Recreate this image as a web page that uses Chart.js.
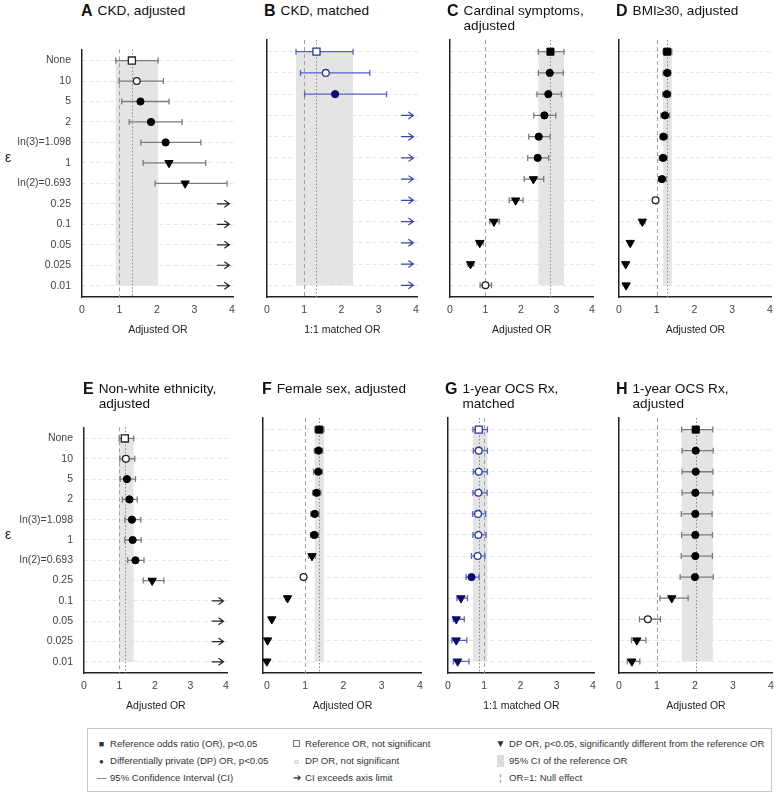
<!DOCTYPE html>
<html>
<head>
<meta charset="utf-8">
<script src="https://cdn.jsdelivr.net/npm/chart.js@4"></script>
<style>
  html, body { margin: 0; padding: 0; overflow: hidden; background: #fff; }
  body { font-family: "Liberation Sans", Arial, sans-serif; color: #222; }
  #wrap { position: relative; width: 780px; height: 800px; }
  #wrap canvas { position: absolute; }
  .ttl { position: absolute; display: flex; align-items: flex-start; font-size: 13.6px; line-height: 15px; color: #111; }
  .ttl b { font-size: 16px; line-height: 15px; margin-right: 5px; }
  .eps { position: absolute; font-size: 14px; }
  #legend { position: absolute; left: 87px; top: 728px; width: 683px; height: 62px; border: 1px solid #c8c8c8; font-size: 9.6px; color: #333; }
  .lg { position: absolute; white-space: nowrap; line-height: 12px; }
  .lg .s { display: inline-block; width: 11px; text-align: center; margin-right: 3px; }
</style>
</head>
<body>
<div id="wrap"></div>
<script>
// ε levels (y categories), top to bottom
const epsLabels = ['None', '10', '5', '2', 'ln(3)=1.098', '1', 'ln(2)=0.693', '0.25', '0.1', '0.05', '0.025', '0.01'];

// symbol codes: ref = reference OR p<0.05, refNS = reference OR n.s., dp = DP OR p<0.05,
// dpNS = DP OR n.s., diff = DP OR different from reference, arrow = CI exceeds axis
// --- A: CKD, adjusted
const orA  = [1.33, 1.46, 1.56, 1.84, 2.23, 2.32, 2.75, null, null, null, null, null];
const loA  = [0.90, 0.99, 1.06, 1.26, 1.57, 1.63, 1.95, null, null, null, null, null];
const hiA  = [2.03, 2.17, 2.32, 2.67, 3.17, 3.30, 3.87, null, null, null, null, null];
const symA = ['refNS', 'dpNS', 'dp', 'dp', 'dp', 'diff', 'diff', 'arrow', 'arrow', 'arrow', 'arrow', 'arrow'];
// --- B: CKD, matched
const orB  = [1.33, 1.58, 1.83, null, null, null, null, null, null, null, null, null];
const loB  = [0.78, 0.90, 1.01, null, null, null, null, null, null, null, null, null];
const hiB  = [2.31, 2.76, 3.21, null, null, null, null, null, null, null, null, null];
const symB = ['refNS', 'dpNS', 'dp', 'arrow', 'arrow', 'arrow', 'arrow', 'arrow', 'arrow', 'arrow', 'arrow', 'arrow'];
// --- C: Cardinal symptoms, adjusted
const orC  = [2.83, 2.81, 2.77, 2.66, 2.50, 2.47, 2.35, 1.85, 1.24, 0.84, 0.58, 1.00];
const loC  = [2.49, 2.49, 2.45, 2.36, 2.22, 2.19, 2.09, 1.67, 1.12, 0.76, 0.51, 0.85];
const hiC  = [3.21, 3.19, 3.14, 2.98, 2.82, 2.78, 2.64, 2.06, 1.39, 0.94, 0.67, 1.17];
const symC = ['ref', 'dp', 'dp', 'dp', 'dp', 'dp', 'diff', 'diff', 'diff', 'diff', 'diff', 'dpNS'];
// --- D: BMI>=30, adjusted
const orD  = [1.28, 1.28, 1.27, 1.22, 1.18, 1.17, 1.14, 0.97, 0.62, 0.30, 0.18, 0.19];
const loD  = [1.17, 1.17, 1.16, 1.11, 1.09, 1.07, 1.05, 0.90, 0.56, 0.26, 0.15, 0.16];
const hiD  = [1.40, 1.37, 1.37, 1.34, 1.29, 1.28, 1.25, 1.03, 0.69, 0.34, 0.22, 0.23];
const symD = ['ref', 'dp', 'dp', 'dp', 'dp', 'dp', 'dp', 'dpNS', 'diff', 'diff', 'diff', 'diff'];
// --- E: Non-white ethnicity, adjusted
const orE  = [1.15, 1.18, 1.21, 1.28, 1.35, 1.37, 1.45, 1.92, null, null, null, null];
const loE  = [0.99, 1.01, 1.02, 1.08, 1.15, 1.15, 1.23, 1.67, null, null, null, null];
const hiE  = [1.40, 1.43, 1.45, 1.50, 1.60, 1.61, 1.69, 2.25, null, null, null, null];
const symE = ['refNS', 'dpNS', 'dp', 'dp', 'dp', 'dp', 'dp', 'diff', 'arrow', 'arrow', 'arrow', 'arrow'];
// --- F: Female sex, adjusted
const orF  = [1.37, 1.35, 1.34, 1.30, 1.25, 1.24, 1.18, 0.96, 0.54, 0.13, 0.02, 0.00];
const loF  = [1.25, 1.24, 1.22, 1.20, 1.15, 1.14, 1.09, 0.93, 0.51, 0.11, 0.01, 0.00];
const hiF  = [1.49, 1.46, 1.45, 1.41, 1.36, 1.35, 1.27, 0.99, 0.57, 0.15, 0.03, 0.01];
const symF = ['ref', 'dp', 'dp', 'dp', 'dp', 'dp', 'diff', 'dpNS', 'diff', 'diff', 'diff', 'diff'];
// --- G: 1-year OCS Rx, matched
const orG  = [0.85, 0.85, 0.85, 0.84, 0.83, 0.84, 0.82, 0.65, 0.36, 0.23, 0.23, 0.27];
const loG  = [0.69, 0.70, 0.70, 0.69, 0.68, 0.69, 0.65, 0.50, 0.25, 0.15, 0.11, 0.15];
const hiG  = [1.09, 1.09, 1.09, 1.08, 1.04, 1.05, 1.02, 0.86, 0.54, 0.45, 0.52, 0.58];
const symG = ['refNS', 'dpNS', 'dpNS', 'dpNS', 'dpNS', 'dpNS', 'dpNS', 'dp', 'diff', 'diff', 'diff', 'diff'];
// --- H: 1-year OCS Rx, adjusted
const orH  = [2.02, 2.02, 2.02, 2.01, 2.01, 2.01, 2.01, 2.00, 1.39, 0.76, 0.47, 0.34];
const loH  = [1.65, 1.66, 1.66, 1.66, 1.64, 1.65, 1.64, 1.61, 1.08, 0.54, 0.33, 0.22];
const hiH  = [2.47, 2.48, 2.47, 2.47, 2.45, 2.46, 2.46, 2.48, 1.82, 1.09, 0.71, 0.55];
const symH = ['ref', 'dp', 'dp', 'dp', 'dp', 'dp', 'dp', 'dp', 'diff', 'dpNS', 'diff', 'diff'];

// panel layout (plot area in page pixels)
const panels = [
  { key: 'A', title: ['CKD, adjusted'], xTitle: 'Adjusted OR', or: orA, lo: loA, hi: hiA, sym: symA, blue: false, labels: true,  left: 82,  right: 234, top: 40,  bottom: 297, xmin: 0 },
  { key: 'B', title: ['CKD, matched'], xTitle: '1:1 matched OR', or: orB, lo: loB, hi: hiB, sym: symB, blue: true, labels: false, left: 265, right: 418, top: 40, bottom: 297, xmin: 0 },
  { key: 'C', title: ['Cardinal symptoms,', 'adjusted'], xTitle: 'Adjusted OR', or: orC, lo: loC, hi: hiC, sym: symC, blue: false, labels: false, left: 448, right: 594, top: 40, bottom: 297, xmin: 0 },
  { key: 'D', title: ['BMI≥30, adjusted'], xTitle: 'Adjusted OR', or: orD, lo: loD, hi: hiD, sym: symD, blue: false, labels: false, left: 617, right: 776, top: 40, bottom: 297, xmin: 0 },
  { key: 'E', title: ['Non-white ethnicity,', 'adjusted'], xTitle: 'Adjusted OR', or: orE, lo: loE, hi: hiE, sym: symE, blue: false, labels: true, left: 84, right: 228, top: 418, bottom: 673, xmin: 0 },
  { key: 'F', title: ['Female sex, adjusted'], xTitle: 'Adjusted OR', or: orF, lo: loF, hi: hiF, sym: symF, blue: false, labels: false, left: 263, right: 422, top: 418, bottom: 673, xmin: -0.1 },
  { key: 'G', title: ['1-year OCS Rx,', 'matched'], xTitle: '1:1 matched OR', or: orG, lo: loG, hi: hiG, sym: symG, blue: true, labels: false, left: 446, right: 595, top: 418, bottom: 673, xmin: 0 },
  { key: 'H', title: ['1-year OCS Rx,', 'adjusted'], xTitle: 'Adjusted OR', or: orH, lo: loH, hi: hiH, sym: symH, blue: false, labels: false, left: 617, right: 773, top: 418, bottom: 673, xmin: 0 },
];

const wrap = document.getElementById('wrap');
const X_MAX = 4.05, Y_MIN = -0.55, Y_MAX = 11.55;
const X_H = 46, PAD_T = 8;

// band, null line, reference line, CIs and arrows, drawn through the chart scales
function makeLayer(p) {
  const ciCol = p.blue ? '#5564c4' : '#7b7b7b';
  const arrowCol = p.blue ? '#3545a8' : '#222';
  return {
    id: 'forestLayer' + p.key,
    beforeDraw(chart) {
      const { ctx, scales: { x, y } } = chart;
      const x0 = x.getPixelForValue(p.lo[0]), x1 = x.getPixelForValue(p.hi[0]);
      const y0 = y.getPixelForValue(0), y1 = y.getPixelForValue(epsLabels.length - 1);
      ctx.save();
      ctx.fillStyle = '#e4e4e4';
      ctx.fillRect(x0, Math.min(y0, y1), x1 - x0, Math.abs(y1 - y0));
      ctx.restore();
    },
    beforeDatasetsDraw(chart) {
      const { ctx, chartArea: a, scales: { x, y } } = chart;
      ctx.save();
      // OR = 1 null effect
      ctx.strokeStyle = '#a0a0a0';
      ctx.lineWidth = 1;
      ctx.setLineDash([4, 3]);
      let nx = Math.round(x.getPixelForValue(1)) + 0.5;
      ctx.beginPath(); ctx.moveTo(nx, a.top); ctx.lineTo(nx, a.bottom); ctx.stroke();
      // reference OR
      ctx.strokeStyle = '#8a8a8a';
      ctx.setLineDash([1.5, 2]);
      let rx = Math.round(x.getPixelForValue(p.or[0])) + 0.5;
      ctx.beginPath(); ctx.moveTo(rx, a.top); ctx.lineTo(rx, a.bottom); ctx.stroke();
      ctx.setLineDash([]);
      // confidence intervals
      ctx.strokeStyle = ciCol;
      ctx.lineWidth = 1.3;
      p.sym.forEach((s, i) => {
        const py = y.getPixelForValue(i);
        if (s === 'arrow') {
          const ax0 = x.getPixelForValue(3.6), ax1 = x.getPixelForValue(3.93);
          ctx.save();
          ctx.strokeStyle = arrowCol;
          ctx.lineWidth = 1.2;
          ctx.beginPath();
          ctx.moveTo(ax0, py); ctx.lineTo(ax1, py);
          ctx.moveTo(ax1 - 5, py - 3.5); ctx.lineTo(ax1, py); ctx.lineTo(ax1 - 5, py + 3.5);
          ctx.stroke();
          ctx.restore();
          return;
        }
        const l = x.getPixelForValue(p.lo[i]), h = x.getPixelForValue(p.hi[i]);
        ctx.beginPath();
        ctx.moveTo(l, py); ctx.lineTo(h, py);
        ctx.moveTo(l, py - 3); ctx.lineTo(l, py + 3);
        ctx.moveTo(h, py - 3); ctx.lineTo(h, py + 3);
        ctx.stroke();
      });
      ctx.restore();
    }
  };
}

const styleOf = { ref: 'rect', refNS: 'rect', dp: 'circle', dpNS: 'circle', diff: 'triangle' };
const radiusOf = { ref: 5, refNS: 5, dp: 3.6, dpNS: 3.4, diff: 4.8 };

panels.forEach(p => {
  const yW = p.labels ? p.left : 8;
  const padR = p.key === 'D' ? 4 : 8;
  const cw = Math.round(yW + (p.right - p.left) + padR);
  const ch = Math.round(PAD_T + (p.bottom - p.top) + X_H);
  const canvas = document.createElement('canvas');
  canvas.width = cw; canvas.height = ch;
  canvas.style.left = (p.left - yW) + 'px';
  canvas.style.top = (p.top - PAD_T) + 'px';
  canvas.style.width = cw + 'px'; canvas.style.height = ch + 'px';
  wrap.appendChild(canvas);

  // title
  const t = document.createElement('div');
  t.className = 'ttl';
  t.style.left = (p.left - 1) + 'px';
  t.style.top = (p.top < 100 ? 3 : 381) + 'px';
  t.innerHTML = '<b>' + p.key + '</b><div>' + p.title.join('<br>') + '</div>';
  wrap.appendChild(t);

  if (p.labels) {
    const e = document.createElement('div');
    e.className = 'eps';
    e.textContent = 'ε';
    e.style.left = '5px';
    e.style.top = (p.top + PAD_T / 2 + 0) + 'px';
    wrap.appendChild(e);
    e.style.top = (p.top + (p.bottom - p.top) * (5 - Y_MIN) / (Y_MAX - Y_MIN) - 9) + 'px';
  }

  const fillCol = p.blue ? '#0c0c70' : '#000';
  const openCol = p.blue ? '#2a3a9a' : '#222';
  const pts = [];
  p.sym.forEach((s, i) => { if (s !== 'arrow') pts.push({ x: p.or[i], y: i, s: s }); });
  const isOpen = c => c.raw && (c.raw.s === 'refNS' || c.raw.s === 'dpNS');

  new Chart(canvas, {
    type: 'scatter',
    data: {
      datasets: [{
        data: pts,
        showLine: false,
        clip: false,
        pointStyle: c => c.raw ? styleOf[c.raw.s] : 'circle',
        pointRotation: c => (c.raw && c.raw.s === 'diff') ? 180 : 0,
        pointRadius: c => c.raw ? radiusOf[c.raw.s] : 3,
        pointBackgroundColor: c => isOpen(c) ? '#fff' : fillCol,
        pointBorderColor: c => isOpen(c) ? openCol : fillCol,
        pointBorderWidth: c => isOpen(c) ? 1.3 : 1
      }]
    },
    options: {
      responsive: false,
      animation: false,
      events: [],
      layout: { padding: { top: PAD_T, right: padR, left: 0, bottom: 0 } },
      plugins: { legend: { display: false }, tooltip: { enabled: false } },
      scales: {
        x: {
          type: 'linear', min: p.xmin, max: X_MAX,
          ticks: { stepSize: 1, includeBounds: false, padding: 7, maxRotation: 0, color: '#444', font: { family: 'Liberation Sans', size: 10.5 } },
          grid: { display: false, drawTicks: false },
          border: { display: true, color: '#222', width: 1.5 },
          title: { display: true, text: p.xTitle, color: '#222', font: { family: 'Liberation Sans', size: 10.5 }, padding: { top: 0, bottom: 7 } },
          afterFit: s => { s.height = X_H; }
        },
        y: {
          type: 'linear', reverse: true, min: Y_MIN, max: Y_MAX,
          ticks: { stepSize: 1, includeBounds: false, display: p.labels, padding: 11, color: '#444', font: { family: 'Liberation Sans', size: 10.5 }, callback: v => epsLabels[v] },
          grid: { color: '#e4e4e4', lineWidth: 1, drawTicks: false },
          border: { display: true, color: '#222', width: 1.5, dash: [4, 3] },
          afterFit: s => { s.width = yW; }
        }
      }
    },
    plugins: [makeLayer(p)]
  });
});

// legend
const legendItems = [
  { col: 0, row: 0, sym: '<span style="font-size:9px">■</span>', text: 'Reference odds ratio (OR), p<0.05' },
  { col: 0, row: 1, sym: '<span style="font-size:8px">●</span>', text: 'Differentially private (DP) OR, p<0.05' },
  { col: 0, row: 2, sym: '—', text: '95% Confidence Interval (CI)' },
  { col: 1, row: 0, sym: '<span style="display:inline-block;width:5px;height:5px;border:1px solid #777"></span>', text: 'Reference OR, not significant' },
  { col: 1, row: 1, sym: '<span style="font-size:8px;color:#666">○</span>', text: 'DP OR, not significant' },
  { col: 1, row: 2, sym: '➔', text: 'CI exceeds axis limit' },
  { col: 2, row: 0, sym: '<span style="font-size:10px">▼</span>', text: 'DP OR, p<0.05, significantly different from the reference OR' },
  { col: 2, row: 1, sym: '<span style="display:inline-block;width:7px;height:12px;background:#dcdcdc;vertical-align:middle"></span>', text: '95% CI of the reference OR' },
  { col: 2, row: 2, sym: '<span style="color:#888">¦</span>', text: 'OR=1: Null effect' }
];
const colX = [8, 203, 407];
const legend = document.createElement('div');
legend.id = 'legend';
legendItems.forEach(it => {
  const d = document.createElement('div');
  d.className = 'lg';
  d.style.left = colX[it.col] + 'px';
  d.style.top = (9 + it.row * 17) + 'px';
  d.innerHTML = '<span class="s">' + it.sym + '</span>';
  d.appendChild(document.createTextNode(it.text));
  legend.appendChild(d);
});
wrap.appendChild(legend);
</script>
</body>
</html>
